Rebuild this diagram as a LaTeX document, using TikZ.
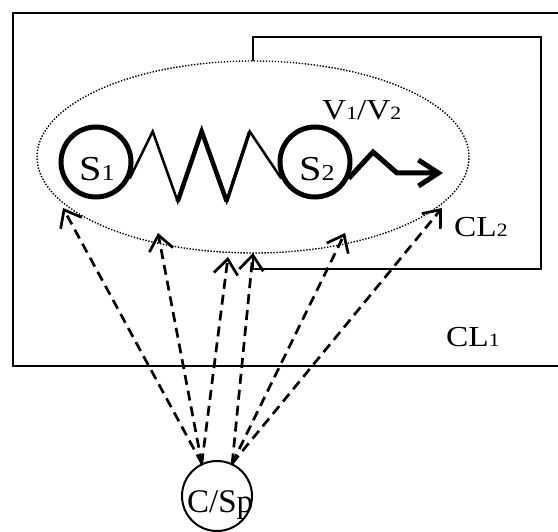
\documentclass[tikz,border=0pt]{standalone}
\usepackage{
	fontspec,			% System Fonts
	graphicx,			% Scale Boxes
	tikz
}
\usetikzlibrary{arrows.meta}
\setmainfont{Liberation Serif}
\newfontfamily\labfont[FakeStretch=1.15]{Liberation Serif}
\newcommand{\dg}[1]{\scalebox{0.65}{#1}}

\begin{document}
\begin{tikzpicture}[x=1pt,y=-1pt,
		lab/.style={font=\labfont\fontsize{29}{32}\selectfont,inner sep=0pt,anchor=base west},
		biglab/.style={font=\labfont\fontsize{35}{38}\selectfont,inner sep=0pt,anchor=base west},
		ball/.style={circle,draw,line width=5pt,minimum size=70pt,inner sep=0pt},
		probe/.style={dash pattern=on 10pt off 6pt,line width=2.7pt,
			-{Straight Barb[length=15pt,width=24pt,line width=2.7pt]}}]
			\useasboundingbox (0,0) rectangle (558,532);
			\clip (0,0) rectangle (558,532);
			\draw[line width=2pt] (13,13) rectangle (570,366);
			\draw[line width=2pt] (253,37) rectangle (541,269);
			\draw[fill=white,line width=1.4pt,dash pattern=on 1.4pt off 1.6pt] (253,157) ellipse [x radius=216pt, y radius=96pt];
			\node[ball] (s1) at (96,162) {};
			\node[ball] (s2) at (315,162) {};
			\node[biglab] (s1lab) at (79,181) {S\dg{1}};
			\node[biglab] (s2lab) at (299,181) {S\dg{2}};
			\draw[line width=2.5pt,line join=miter] (s1.-26) -- ++(23,-47) coordinate (z1)
				-- ++(25,70) coordinate (z2) -- ++(24,-70) coordinate (z3)
				-- ++(25,70) coordinate (z4) -- ++(23,-70) coordinate (z5) -- (s2.206);
			\draw[line width=4.5pt,line join=miter] (z2) -- (z3) -- (z4);
			\draw[line width=3.5pt] (z4) -- (z5);
			\coordinate (vtip) at (443,173);
			\draw[line width=5pt,line join=miter,-{Straight Barb[length=20pt,width=26pt,line width=5pt]}]
				(s2.-26) -- (373,152) -- (397,173) -- (vtip);
			\node[lab] (vlab) at (322,120) {V\dg{1}/V\dg{2}};
			\node[lab] (cl2) at (454,237) {CL\dg{2}};
			\node[lab] (cl1) at (446,347) {CL\dg{1}};
			\node[circle,draw,line width=2pt,minimum size=70pt,inner sep=0pt] (csp) at (217,496) {};
			\node[font=\fontsize{33}{36}\selectfont,inner sep=0pt,anchor=base west] (csplab) at (187,512) {C/Sp};
			\coordinate (t1) at (63,208);
			\coordinate (t2) at (158,233);
			\coordinate (t3) at (228,257);
			\coordinate (t4) at (253,253);
			\coordinate (t5) at (345,233);
			\coordinate (t6) at (442,208);
			\foreach \t in {t1,t2,t3}
			\draw[probe] (csp.115) -- (\t);
			\foreach \t in {t4,t5,t6}
			\draw[probe] (csp.65) -- (\t);
		\end{tikzpicture}
\end{document}
